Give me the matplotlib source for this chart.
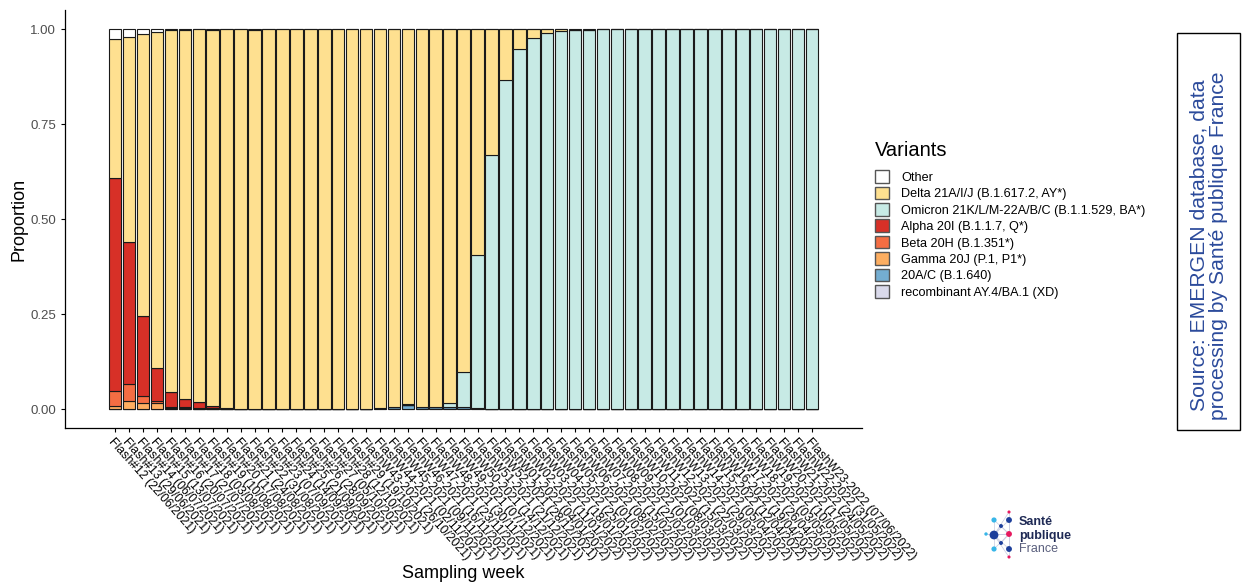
import numpy as np
import matplotlib
matplotlib.use("Agg")
import matplotlib.pyplot as plt
from matplotlib.patches import Patch, Rectangle
from datetime import date, timedelta

plt.rcParams['font.family'] = ['Liberation Sans', 'DejaVu Sans']

# sampling weeks (weekly, from 22/06/2021 to 07/06/2022)
first_day = date(2021, 6, 22)
n_weeks = 51
days = [first_day + timedelta(days=7 * i) for i in range(n_weeks)]
weeks = []
for i, d in enumerate(days):
    iso = d.isocalendar()
    if i < 18:
        weeks.append(f"Flash#{12 + i} ({d:%d/%m/%Y})")
    else:
        weeks.append(f"FlashW{iso[1]:02d}-{iso[0]} ({d:%d/%m/%Y})")

# proportions
other = [0.025, 0.020, 0.012, 0.008, 0.003, 0.002, 0.001, 0.003, 0.001, 0.001,
         0.003, 0.001, 0.001, 0.001, 0.001, 0.001, 0.001, 0.001, 0.001, 0.001,
         0.001, 0.001, 0.001, 0.001, 0.000, 0.000, 0.000, 0.000, 0.000, 0.000,
         0.000, 0.001, 0.001, 0.002, 0.002, 0.000, 0.000, 0.000, 0.000, 0.000,
         0.000, 0.000, 0.000, 0.000, 0.000, 0.000, 0.000, 0.000, 0.000, 0.000, 0.000]
delta = [0.368, 0.540, 0.742, 0.883, 0.951, 0.972, 0.981, 0.988, 0.996, 0.998,
         0.996, 0.998, 0.998, 0.998, 0.999, 0.999, 0.998, 0.998, 0.998, 0.996,
         0.995, 0.987, 0.993, 0.993, 0.983, 0.902, 0.594, 0.332, 0.134, 0.053,
         0.023, 0.010, 0.004, 0.001, 0.000, 0.000, 0.000, 0.000, 0.000, 0.000,
         0.000, 0.000, 0.000, 0.000, 0.000, 0.000, 0.000, 0.000, 0.000, 0.000, 0.000]
omicron = [0.000, 0.000, 0.000, 0.000, 0.000, 0.000, 0.000, 0.000, 0.000, 0.000,
           0.000, 0.000, 0.000, 0.000, 0.000, 0.000, 0.000, 0.000, 0.000, 0.000,
           0.000, 0.002, 0.001, 0.001, 0.013, 0.094, 0.404, 0.667, 0.866, 0.947,
           0.977, 0.989, 0.995, 0.997, 0.998, 1.000, 1.000, 1.000, 1.000, 1.000,
           1.000, 1.000, 1.000, 1.000, 1.000, 1.000, 1.000, 1.000, 1.000, 1.000, 1.000]
alpha = [0.560, 0.375, 0.212, 0.088, 0.041, 0.020, 0.015, 0.007, 0.002, 0.001,
         0.001, 0.001, 0.001, 0.001, 0.000, 0.000, 0.001, 0.001, 0.001, 0.000,
         0.000, 0.000, 0.000, 0.000, 0.000, 0.000, 0.000, 0.000, 0.000, 0.000,
         0.000, 0.000, 0.000, 0.000, 0.000, 0.000, 0.000, 0.000, 0.000, 0.000,
         0.000, 0.000, 0.000, 0.000, 0.000, 0.000, 0.000, 0.000, 0.000, 0.000, 0.000]
beta = [0.040, 0.043, 0.018, 0.005, 0.002, 0.003, 0.002, 0.001, 0.001, 0.000] + [0.0] * 41
gamma = [0.006, 0.021, 0.016, 0.016, 0.003, 0.003, 0.001, 0.001, 0.000, 0.000] + [0.0] * 41
a20c = [0.001, 0.001, 0.000, 0.000, 0.000, 0.000, 0.000, 0.000, 0.000, 0.000,
        0.000, 0.000, 0.000, 0.000, 0.000, 0.000, 0.000, 0.000, 0.000, 0.003,
        0.004, 0.010, 0.005, 0.005, 0.004, 0.004, 0.002, 0.001, 0.000, 0.000,
        0.000, 0.000, 0.000, 0.000, 0.000, 0.000, 0.000, 0.000, 0.000, 0.000,
        0.000, 0.000, 0.000, 0.000, 0.000, 0.000, 0.000, 0.000, 0.000, 0.000, 0.000]
recomb = [0.0] * 51

variants = ["Other", "Delta 21A/I/J (B.1.617.2, AY*)",
            "Omicron 21K/L/M-22A/B/C (B.1.1.529, BA*)", "Alpha 20I (B.1.1.7, Q*)",
            "Beta 20H (B.1.351*)", "Gamma 20J (P.1, P1*)", "20A/C (B.1.640)",
            "recombinant AY.4/BA.1 (XD)"]
series = [other, delta, omicron, alpha, beta, gamma, a20c, recomb]
colors = ["#FFFFFF", "#FEE090", "#C7EAE5", "#D73027", "#F46D43", "#FDAE61",
          "#74ADD1", "#DADAEB"]

fig = plt.figure(figsize=(12.44, 5.82), dpi=100)
ax = fig.add_axes([0.0523, 0.2646, 0.6407, 0.7182])

x = np.arange(n_weeks)
bottom = np.zeros(n_weeks)
# stack from the bottom (last legend entry) to the top (first legend entry)
for name, vals, col in reversed(list(zip(variants, series, colors))):
    vals = np.array(vals)
    ax.bar(x, vals, bottom=bottom, width=0.9, color=col,
           edgecolor="#1a1a1a", linewidth=0.8)
    bottom += vals

ax.set_xlim(-3.6, n_weeks - 1 + 3.6)
ax.set_ylim(-0.05, 1.05)
ax.set_yticks([0, 0.25, 0.5, 0.75, 1.0])
ax.set_yticklabels(["0.00", "0.25", "0.50", "0.75", "1.00"])
ax.set_xticks(x)
ax.set_xticklabels(weeks, rotation=-48, ha="left", va="top",
                   rotation_mode="anchor", fontsize=8.8)
ax.tick_params(axis="y", labelsize=9.5, labelcolor="#4d4d4d", length=3, width=0.8)
ax.tick_params(axis="x", length=3, width=0.8, pad=3)
for s in ["top", "right"]:
    ax.spines[s].set_visible(False)
for s in ["left", "bottom"]:
    ax.spines[s].set_linewidth(0.9)

ax.set_ylabel("Proportion", fontsize=13)
ax.yaxis.set_label_coords(-0.047, 0.5)
ax.set_xlabel("Sampling week", fontsize=13)
ax.xaxis.set_label_coords(0.5, -0.328)

# legend (title drawn separately)
fig.text(875 / 1244, 1 - 150 / 582, "Variants", fontsize=14.5, ha="left", va="center")
handles = [Patch(facecolor=c, edgecolor="#555555", linewidth=1.0) for c in colors]
leg = ax.legend(handles, variants, loc="upper left",
                bbox_to_anchor=(0.695, 1 - 160 / 582), bbox_transform=fig.transFigure,
                frameon=False, fontsize=9.1, borderpad=0.3,
                handlelength=1.15, handleheight=1.15, labelspacing=0.23,
                handletextpad=0.95)

# source box
fig.patches.append(Rectangle((0.946, 0.261), 0.0506, 0.682, transform=fig.transFigure,
                             facecolor="white", edgecolor="black", linewidth=1.0))
fig.text(0.9717, 0.578, "Source: EMERGEN database, data\nprocessing by Santé publique France",
         rotation=90, ha="center", va="center", fontsize=15.2, color="#2B4A9B",
         linespacing=1.05)

# logo (axes in pixel-like units, origin at (980, 560) of the picture)
logo = fig.add_axes([980 / 1244, 22 / 582, 100 / 1244, 55 / 582])
logo.set_xlim(0, 100)
logo.set_ylim(0, 55)
logo.axis("off")
dots_x = [29, 14, 29, 21, 6, 14, 29, 21, 14, 29, 29]
dots_y = [48, 40, 40, 34, 26, 25, 26, 17, 11, 11, 3]
dots_s = [5, 14, 18, 8, 6, 40, 18, 8, 14, 18, 5]
dots_c = ["#E6195F", "#38B6E8", "#1D3F9B", "#1D3F9B", "#38B6E8", "#1D3F9B",
          "#E6195F", "#1D3F9B", "#38B6E8", "#1D3F9B", "#E6195F"]
for xb, yb in zip(dots_x, dots_y):
    logo.plot([29, xb], [26, yb], color="#c8cbe0", lw=0.5, zorder=1)
    logo.plot([14, xb], [25, yb], color="#c8cbe0", lw=0.5, zorder=1)
logo.scatter(dots_x, dots_y, s=dots_s, c=dots_c, zorder=2, linewidths=0)
logo.text(39, 38, "Santé", fontsize=9, fontweight="bold", color="#1f2a55", va="center")
logo.text(39, 24, "publique", fontsize=9, fontweight="bold", color="#1f2a55", va="center")
logo.text(39, 11, "France", fontsize=9, color="#5a5f7d", va="center")

fig.savefig("out.png", dpi=100)
